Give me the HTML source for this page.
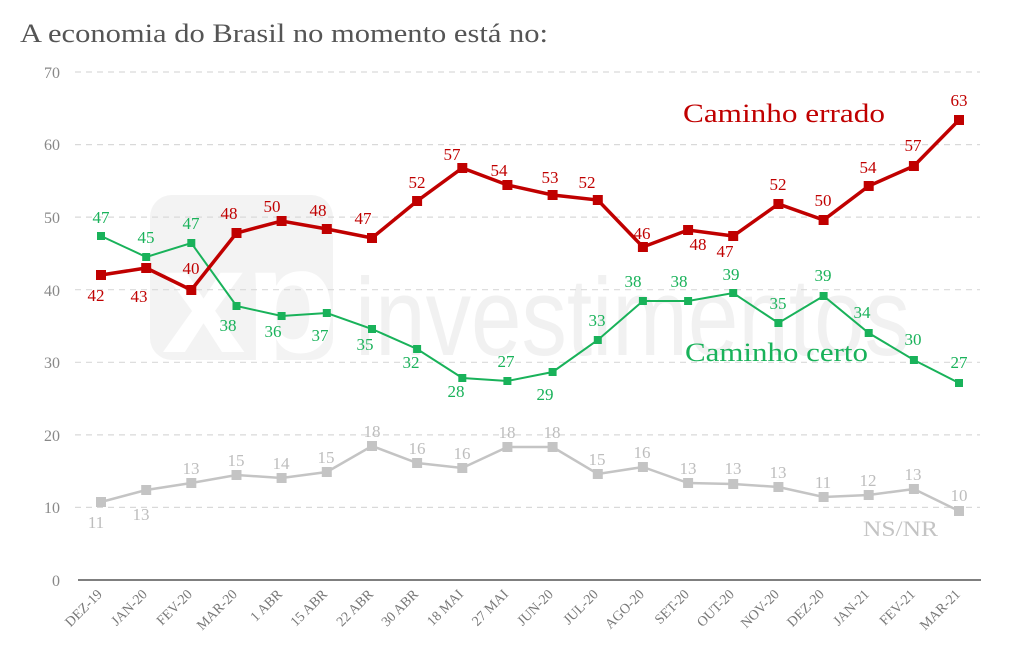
<!DOCTYPE html>
<html><head><meta charset="utf-8"><style>
html,body{margin:0;padding:0;background:#fff;}
svg{display:block;}
text{font-family:"Liberation Serif","DejaVu Serif",serif;}
</style></head><body>
<svg width="1024" height="655" viewBox="0 0 1024 655" xmlns="http://www.w3.org/2000/svg">
<rect x="150" y="195" width="183" height="165" rx="22" fill="#f3f3f3"/>
<text x="162" y="352" font-size="150" font-weight="bold" fill="#fff" style="font-family:'Liberation Sans',sans-serif">xp</text>
<text x="355" y="355" font-size="110" fill="#f1f1f1" style="font-family:'Liberation Sans',sans-serif" textLength="555" lengthAdjust="spacingAndGlyphs">investimentos</text>

<text x="20" y="42" font-size="26" fill="#555" textLength="528" lengthAdjust="spacingAndGlyphs">A economia do Brasil no momento está no:</text>
<g stroke="#d9d9d9" stroke-width="1.2" stroke-dasharray="6,5">
<line x1="75" y1="72" x2="980" y2="72"/>
<line x1="75" y1="144.6" x2="980" y2="144.6"/>
<line x1="75" y1="217.1" x2="980" y2="217.1"/>
<line x1="75" y1="289.7" x2="980" y2="289.7"/>
<line x1="75" y1="362.3" x2="980" y2="362.3"/>
<line x1="75" y1="434.9" x2="980" y2="434.9"/>
<line x1="75" y1="507.4" x2="980" y2="507.4"/>
</g>
<line x1="78" y1="580" x2="981" y2="580" stroke="#555" stroke-width="1.5"/>
<g font-size="16" fill="#888" text-anchor="end">
<text x="60" y="78">70</text><text x="60" y="150">60</text><text x="60" y="223">50</text>
<text x="60" y="296">40</text><text x="60" y="368">30</text><text x="60" y="441">20</text>
<text x="60" y="513">10</text><text x="60" y="586">0</text>
</g>
<g font-size="14" fill="#777" text-anchor="end">
<text transform="translate(103,595) rotate(-45)">DEZ-19</text>
<text transform="translate(148,595) rotate(-45)">JAN-20</text>
<text transform="translate(193,595) rotate(-45)">FEV-20</text>
<text transform="translate(238,595) rotate(-45)">MAR-20</text>
<text transform="translate(283,595) rotate(-45)">1 ABR</text>
<text transform="translate(328,595) rotate(-45)">15 ABR</text>
<text transform="translate(374,595) rotate(-45)">22 ABR</text>
<text transform="translate(419,595) rotate(-45)">30 ABR</text>
<text transform="translate(464,595) rotate(-45)">18 MAI</text>
<text transform="translate(509,595) rotate(-45)">27 MAI</text>
<text transform="translate(554,595) rotate(-45)">JUN-20</text>
<text transform="translate(599,595) rotate(-45)">JUL-20</text>
<text transform="translate(645,595) rotate(-45)">AGO-20</text>
<text transform="translate(690,595) rotate(-45)">SET-20</text>
<text transform="translate(735,595) rotate(-45)">OUT-20</text>
<text transform="translate(780,595) rotate(-45)">NOV-20</text>
<text transform="translate(825,595) rotate(-45)">DEZ-20</text>
<text transform="translate(870,595) rotate(-45)">JAN-21</text>
<text transform="translate(916,595) rotate(-45)">FEV-21</text>
<text transform="translate(961,595) rotate(-45)">MAR-21</text>
</g>

<polyline fill="none" stroke="#c4c4c4" stroke-width="2.5" points="101,502 146.2,490 191.3,483 236.5,475 281.6,478 326.8,472 372,446 417.1,463 462.3,468 507.4,447 552.6,447 597.8,474 642.9,467 688.1,483 733.2,484 778.4,487 823.6,497 868.7,495 913.9,489 959,511"/>
<g fill="#c4c4c4">
<rect x="96" y="497" width="10" height="10"/><rect x="141.2" y="485" width="10" height="10"/><rect x="186.3" y="478" width="10" height="10"/><rect x="231.5" y="470" width="10" height="10"/><rect x="276.6" y="473" width="10" height="10"/><rect x="321.8" y="467" width="10" height="10"/><rect x="367" y="441" width="10" height="10"/><rect x="412.1" y="458" width="10" height="10"/><rect x="457.3" y="463" width="10" height="10"/><rect x="502.4" y="442" width="10" height="10"/><rect x="547.6" y="442" width="10" height="10"/><rect x="592.8" y="469" width="10" height="10"/><rect x="637.9" y="462" width="10" height="10"/><rect x="683.1" y="478" width="10" height="10"/><rect x="728.2" y="479" width="10" height="10"/><rect x="773.4" y="482" width="10" height="10"/><rect x="818.6" y="492" width="10" height="10"/><rect x="863.7" y="490" width="10" height="10"/><rect x="908.9" y="484" width="10" height="10"/><rect x="954" y="506" width="10" height="10"/>
</g>
<g font-size="17" fill="#bdbdbd" text-anchor="middle">
<text x="96" y="528">11</text><text x="141" y="520">13</text><text x="191" y="474">13</text><text x="236" y="466">15</text><text x="281" y="469">14</text><text x="326" y="463">15</text><text x="372" y="437">18</text><text x="417" y="454">16</text><text x="462" y="459">16</text><text x="507" y="438">18</text><text x="552" y="438">18</text><text x="597" y="465">15</text><text x="642" y="458">16</text><text x="688" y="474">13</text><text x="733" y="474">13</text><text x="778" y="478">13</text><text x="823" y="488">11</text><text x="868" y="486">12</text><text x="913" y="480">13</text><text x="959" y="501">10</text>
</g>
<text x="863" y="536" font-size="22" fill="#c4c4c4" textLength="75" lengthAdjust="spacingAndGlyphs">NS/NR</text>

<polyline fill="none" stroke="#19b25a" stroke-width="2" points="101,236 146.2,257 191.3,243 236.5,306 281.6,316 326.8,313 372,329 417.1,349 462.3,378 507.4,381 552.6,372 597.8,340 642.9,301 688.1,301 733.2,293 778.4,323 823.6,296 868.7,333 913.9,360 959,383"/>
<g fill="#19b25a">
<rect x="97" y="232" width="8" height="8"/><rect x="142.2" y="253" width="8" height="8"/><rect x="187.3" y="239" width="8" height="8"/><rect x="232.5" y="302" width="8" height="8"/><rect x="277.6" y="312" width="8" height="8"/><rect x="322.8" y="309" width="8" height="8"/><rect x="368" y="325" width="8" height="8"/><rect x="413.1" y="345" width="8" height="8"/><rect x="458.3" y="374" width="8" height="8"/><rect x="503.4" y="377" width="8" height="8"/><rect x="548.6" y="368" width="8" height="8"/><rect x="593.8" y="336" width="8" height="8"/><rect x="638.9" y="297" width="8" height="8"/><rect x="684.1" y="297" width="8" height="8"/><rect x="729.2" y="289" width="8" height="8"/><rect x="774.4" y="319" width="8" height="8"/><rect x="819.6" y="292" width="8" height="8"/><rect x="864.7" y="329" width="8" height="8"/><rect x="909.9" y="356" width="8" height="8"/><rect x="955" y="379" width="8" height="8"/>
</g>
<g font-size="17" fill="#19b25a" text-anchor="middle">
<text x="101" y="223">47</text><text x="146" y="243">45</text><text x="191" y="229">47</text><text x="228" y="331">38</text><text x="273" y="337">36</text><text x="320" y="341">37</text><text x="365" y="350">35</text><text x="411" y="368">32</text><text x="456" y="397">28</text><text x="506" y="367">27</text><text x="545" y="400">29</text><text x="597" y="326">33</text><text x="633" y="287">38</text><text x="679" y="287">38</text><text x="731" y="280">39</text><text x="778" y="309">35</text><text x="823" y="281">39</text><text x="862" y="318">34</text><text x="913" y="345">30</text><text x="959" y="368">27</text>
</g>
<text x="685" y="361" font-size="26" fill="#19b25a" textLength="183" lengthAdjust="spacingAndGlyphs">Caminho certo</text>

<polyline fill="none" stroke="#c00000" stroke-width="3.5" points="101,275 146.2,268 191.3,290 236.5,233 281.6,221 326.8,229 372,238 417.1,201 462.3,168 507.4,185 552.6,195 597.8,200 642.9,247 688.1,230 733.2,236 778.4,204 823.6,220 868.7,186 913.9,166 959,120"/>
<g fill="#c00000">
<rect x="96" y="270" width="10" height="10"/><rect x="141.2" y="263" width="10" height="10"/><rect x="186.3" y="285" width="10" height="10"/><rect x="231.5" y="228" width="10" height="10"/><rect x="276.6" y="216" width="10" height="10"/><rect x="321.8" y="224" width="10" height="10"/><rect x="367" y="233" width="10" height="10"/><rect x="412.1" y="196" width="10" height="10"/><rect x="457.3" y="163" width="10" height="10"/><rect x="502.4" y="180" width="10" height="10"/><rect x="547.6" y="190" width="10" height="10"/><rect x="592.8" y="195" width="10" height="10"/><rect x="637.9" y="242" width="10" height="10"/><rect x="683.1" y="225" width="10" height="10"/><rect x="728.2" y="231" width="10" height="10"/><rect x="773.4" y="199" width="10" height="10"/><rect x="818.6" y="215" width="10" height="10"/><rect x="863.7" y="181" width="10" height="10"/><rect x="908.9" y="161" width="10" height="10"/><rect x="954" y="115" width="10" height="10"/>
</g>
<g font-size="17" fill="#c00000" text-anchor="middle">
<text x="96" y="301">42</text><text x="139" y="302">43</text><text x="191" y="274">40</text><text x="229" y="219">48</text><text x="272" y="212">50</text><text x="318" y="216">48</text><text x="363" y="224">47</text><text x="417" y="188">52</text><text x="452" y="160">57</text><text x="499" y="176">54</text><text x="550" y="183">53</text><text x="587" y="188">52</text><text x="642" y="239">46</text><text x="698" y="250">48</text><text x="725" y="257">47</text><text x="778" y="190">52</text><text x="823" y="206">50</text><text x="868" y="173">54</text><text x="913" y="151">57</text><text x="959" y="106">63</text>
</g>
<text x="683" y="122" font-size="26" fill="#c00000" textLength="202" lengthAdjust="spacingAndGlyphs">Caminho errado</text>
</svg>
</body></html>
